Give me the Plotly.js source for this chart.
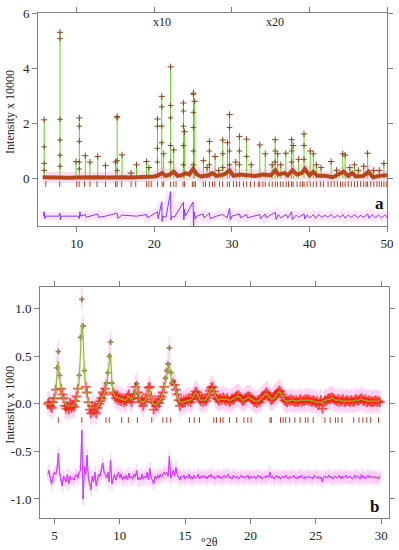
<!DOCTYPE html>
<html>
<head>
<meta charset="utf-8">
<script src="https://cdn.plot.ly/plotly-3.0.1.min.js"></script>
<style>html,body{margin:0;padding:0;background:#fff;}#chart{width:399px;height:550px;}</style>
</head>
<body>
<div id="chart"></div>
<script>
// ---------- Panel a (high-resolution pattern) ----------
const aPeakX = [5.8, 7.84, 9.9, 10.33, 11.1, 11.7, 12.7, 13.7, 15.0, 15.2, 15.84, 17.0, 17.7, 19.0, 19.3, 20.4, 20.96, 21.2, 22.1, 22.5, 23.75, 23.9, 25.04, 25.2, 26.33, 26.8, 27.1, 27.84, 28.3, 28.83, 29.43, 29.69, 30.5, 30.97, 31.9, 32.5, 33.6, 34.3, 35.2, 35.58, 35.9, 36.3, 36.96, 37.7, 37.9, 38.6, 39.3, 40.1, 40.5, 40.9, 41.5, 42.8, 43.5, 44.3, 44.6, 45.2, 45.8, 46.3, 47.0, 47.5, 48.3, 49.0, 49.6];
const aPeakH = [2.13, 5.3, 0.62, 2.2, 0.83, 0.6, 0.8, 0.47, 0.6, 2.25, 0.86, 0.2, 0.5, 0.62, 0.4, 2.16, 2.98, 0.9, 4.05, 1.04, 2.74, 1.7, 3.1, 2.8, 0.65, 0.4, 1.35, 0.8, 0.3, 1.4, 1.3, 2.32, 0.6, 1.53, 1.43, 0.5, 1.22, 0.9, 0.5, 1.41, 0.9, 0.5, 0.92, 1.41, 1.2, 0.7, 1.62, 1.0, 0.9, 0.5, 0.4, 0.62, 0.3, 0.9, 0.85, 0.4, 0.5, 0.3, 0.45, 0.92, 0.3, 0.3, 0.55];
const aFlankX = [7.84, 7.84, 7.84, 7.84, 7.84, 5.8, 5.8, 5.8, 10.33, 10.33, 10.33, 10.33, 15.2, 15.2, 15.2, 20.96, 20.96, 20.96, 20.4, 20.4, 20.4, 22.1, 22.1, 22.1, 22.1, 23.75, 23.75, 23.75, 23.75, 25.04, 25.04, 25.04, 25.04, 25.04, 29.69, 29.69, 29.69, 27.1, 27.1, 28.83, 28.83, 30.97, 30.97, 31.9, 35.58, 35.58, 37.7, 37.7, 39.3, 39.3];
const aFlankY = [5.07, 2.15, 1.4, 0.85, 0.45, 1.15, 0.55, 0.3, 1.9, 1.35, 0.6, 0.35, 2.2, 0.65, 0.3, 2.6, 1.9, 1.3, 1.9, 1.1, 0.6, 2.65, 2.2, 1.2, 0.6, 2.45, 1.9, 1.2, 0.5, 3.05, 2.4, 1.85, 1.0, 0.5, 1.85, 1.0, 0.5, 1.0, 0.5, 0.9, 0.4, 1.0, 0.5, 0.8, 1.0, 0.6, 1.0, 0.6, 1.2, 0.7];
const aBgX = [5.6, 6.5, 8, 9, 10, 11, 12, 13, 14, 15, 16, 17, 18, 19, 20, 20.5, 21, 21.5, 22, 22.5, 23, 23.5, 24, 24.5, 25, 25.5, 26, 27, 27.5, 28, 29, 29.7, 30.2, 31, 32, 33, 34, 35, 35.6, 36, 36.8, 37.2, 37.8, 38.4, 39, 39.4, 40, 40.5, 41, 42, 43, 43.6, 44.4, 45, 45.5, 46, 47, 47.6, 48.2, 49, 50];
const aBgY = [0.05, 0.04, 0.05, 0.03, 0.04, 0.05, 0.04, 0.05, 0.04, 0.06, 0.05, 0.04, 0.05, 0.06, 0.08, 0.12, 0.2, 0.1, 0.15, 0.25, 0.1, 0.12, 0.2, 0.15, 0.35, 0.15, 0.08, 0.12, 0.2, 0.1, 0.15, 0.3, 0.1, 0.15, 0.12, 0.1, 0.15, 0.12, 0.3, 0.15, 0.2, 0.12, 0.3, 0.15, 0.2, 0.35, 0.12, 0.25, 0.1, 0.1, 0.05, 0.15, 0.25, 0.1, 0.2, 0.08, 0.1, 0.25, 0.05, 0.1, 0.12];
const aDiffX = [5.7, 5.8, 5.9, 6.0, 7.7, 7.84, 7.9, 8.0, 10.2, 10.33, 10.4, 10.5, 11.1, 11.2, 12.7, 12.8, 13.7, 15.2, 15.3, 15.8, 17.7, 19.0, 19.1, 20.4, 20.5, 20.96, 21.0, 21.1, 21.5, 22.1, 22.15, 22.3, 22.6, 23.75, 23.8, 23.9, 24.0, 25.0, 25.05, 25.15, 25.3, 25.5, 26.3, 26.4, 27.1, 27.2, 28.0, 28.8, 29.4, 29.7, 29.8, 30.0, 31.0, 31.1, 31.9, 32.0, 33.6, 33.7, 34.3, 34.4, 35.6, 35.7, 36.0, 36.3, 37.0, 37.2, 37.7, 37.8, 38.3, 38.6, 39.3, 39.4, 39.7, 40.1, 40.5, 40.8, 41.2, 41.6, 42.0, 42.4, 42.8, 43.2, 43.6, 44.0, 44.3, 44.6, 45.0, 45.4, 45.8, 46.2, 46.6, 47.0, 47.5, 47.7, 48.1, 48.5, 48.9, 49.3, 49.7, 50.0];
const aDiffY = [-1.36, -1.2, -1.45, -1.36, -1.36, -1.25, -1.5, -1.36, -1.36, -1.45, -1.2, -1.36, -1.3, -1.4, -1.28, -1.4, -1.36, -1.25, -1.44, -1.32, -1.36, -1.3, -1.42, -1.2, -1.45, -0.84, -1.55, -1.36, -1.4, -0.47, -1.5, -1.36, -1.4, -0.86, -1.5, -1.1, -1.36, -0.85, -1.75, -1.2, -1.45, -1.36, -1.28, -1.42, -1.25, -1.45, -1.36, -1.3, -1.42, -1.08, -1.5, -1.36, -1.28, -1.42, -1.3, -1.42, -1.3, -1.45, -1.28, -1.42, -1.22, -1.48, -1.3, -1.42, -1.3, -1.43, -1.2, -1.48, -1.32, -1.4, -1.28, -1.46, -1.32, -1.42, -1.3, -1.44, -1.3, -1.4, -1.33, -1.4, -1.3, -1.42, -1.33, -1.4, -1.3, -1.43, -1.32, -1.4, -1.3, -1.42, -1.33, -1.4, -1.28, -1.44, -1.3, -1.42, -1.32, -1.42, -1.32, -1.38];
const aRefl = [6.0, 7.8, 10.0, 10.3, 11.0, 11.7, 12.6, 13.7, 15.0, 15.2, 15.8, 17.0, 17.6, 19.0, 19.3, 19.6, 20.4, 21.0, 21.2, 22.1, 22.5, 22.8, 23.7, 23.9, 24.9, 25.1, 25.3, 26.3, 26.6, 27.1, 27.5, 27.8, 28.4, 28.8, 29.4, 29.7, 30.2, 30.6, 31.0, 31.5, 31.9, 32.4, 32.9, 33.4, 33.6, 34.0, 34.3, 34.8, 35.2, 35.6, 35.9, 36.3, 36.6, 37.0, 37.3, 37.7, 37.9, 38.4, 38.8, 39.1, 39.3, 39.7, 40.1, 40.5, 40.9, 41.4, 41.8, 42.4, 42.8, 43.2, 43.6, 44.0, 44.3, 44.6, 45.0, 45.4, 45.8, 46.2, 46.6, 47.0, 47.3, 47.5, 47.9, 48.3, 48.7, 49.0, 49.3, 49.6, 49.9];
const aXTicks = [10, 20, 30, 40, 50];
const aYTicks = [0, 2, 4, 6];

// ---------- Panel b (x = 4.5 .. 29.9, step 0.1) ----------
const bStart = 4.5, bStep = 0.1;
const bObs = [
 0.00, 0.02, -0.02, -0.04, 0.02, 0.06, 0.15, 0.38, 0.55, 0.30,
 0.16, 0.10, 0.06, -0.02, -0.05, -0.02, -0.06, 0.01, -0.04, -0.01,
 -0.03, 0.03, 0.08, 0.16, 0.30, 0.70, 1.10, 0.82, 0.35, 0.18,
 0.12, 0.02, -0.06, -0.10, -0.02, -0.08, -0.03, -0.10, -0.04, 0.00,
 0.03, 0.06, 0.12, 0.10, 0.16, 0.22, 0.33, 0.50, 0.65, 0.22,
 0.12, 0.10, 0.06, 0.09, 0.04, 0.07, 0.03, 0.06, 0.02, 0.04,
 0.03, 0.08, 0.10, 0.05, 0.02, 0.06, 0.10, 0.18, 0.21, 0.12,
 0.06, 0.02, 0.04, -0.02, 0.03, 0.05, 0.10, 0.17, 0.18, 0.08,
 0.02, -0.06, 0.01, -0.02, 0.03, 0.01, 0.05, 0.08, 0.12, 0.18,
 0.27, 0.35, 0.42, 0.59, 0.33, 0.22, 0.24, 0.20, 0.15, 0.10,
 0.04, -0.02, 0.03, 0.01, 0.04, 0.02, 0.05, 0.03, 0.06, 0.02,
 0.05, 0.07, 0.10, 0.13, 0.12, 0.09, 0.05, 0.03, 0.06, 0.02,
 0.05, 0.03, 0.07, 0.10, 0.14, 0.17, 0.18, 0.13, 0.09, 0.06,
 0.05, 0.03, 0.06, 0.04, 0.07, 0.05, 0.03, 0.06, 0.04, 0.02,
 0.04, 0.06, 0.04, 0.07, 0.08, 0.09, 0.09, 0.07, 0.05, 0.03,
 0.04, 0.06, 0.07, 0.08, 0.08, 0.07, 0.05, 0.04, 0.02, 0.03,
 0.01, 0.04, 0.02, 0.05, 0.07, 0.09, 0.10, 0.12, 0.11, 0.09,
 0.06, 0.04, 0.05, 0.07, 0.09, 0.11, 0.12, 0.14, 0.13, 0.10,
 0.07, 0.04, 0.03, 0.02, 0.04, 0.03, 0.05, 0.03, 0.04, 0.02,
 0.04, 0.02, 0.03, 0.05, 0.02, 0.04, 0.03, 0.05, 0.04, 0.05,
 0.03, 0.04, 0.02, 0.04, 0.03, 0.01, 0.03, -0.01, 0.02, 0.04,
 -0.05, 0.02, 0.04, 0.03, 0.05, 0.06, 0.05, 0.07, 0.06, 0.05,
 0.04, 0.03, 0.05, 0.02, 0.04, 0.03, 0.05, 0.02, 0.03, 0.04,
 0.03, 0.02, 0.04, 0.03, 0.02, 0.04, 0.05, 0.03, 0.04, 0.05,
 0.06, 0.04, 0.03, 0.05, 0.02, 0.03, 0.04, 0.02, 0.03, 0.02,
 0.03, 0.04, 0.02, 0.03, 0.02];
const bCalc = [
 0.00, 0.00, 0.00, 0.00, 0.02, 0.05, 0.12, 0.30, 0.45, 0.25,
 0.14, 0.08, 0.04, 0.01, -0.01, -0.02, -0.02, -0.02, -0.02, -0.02,
 -0.01, 0.01, 0.05, 0.12, 0.25, 0.50, 0.85, 0.70, 0.32, 0.16,
 0.08, 0.02, -0.02, -0.04, -0.04, -0.04, -0.04, -0.04, -0.03, -0.01,
 0.02, 0.05, 0.08, 0.10, 0.14, 0.20, 0.30, 0.45, 0.53, 0.22,
 0.12, 0.09, 0.07, 0.07, 0.06, 0.06, 0.05, 0.05, 0.04, 0.04,
 0.04, 0.06, 0.08, 0.06, 0.05, 0.06, 0.09, 0.15, 0.19, 0.12,
 0.06, 0.03, 0.02, 0.02, 0.03, 0.05, 0.09, 0.15, 0.16, 0.08,
 0.02, 0.00, -0.01, 0.00, 0.01, 0.02, 0.04, 0.07, 0.11, 0.17,
 0.24, 0.30, 0.38, 0.42, 0.30, 0.22, 0.22, 0.19, 0.14, 0.08,
 0.04, 0.02, 0.02, 0.02, 0.02, 0.03, 0.03, 0.03, 0.04, 0.04,
 0.05, 0.07, 0.09, 0.12, 0.11, 0.08, 0.05, 0.04, 0.04, 0.04,
 0.04, 0.05, 0.07, 0.10, 0.13, 0.16, 0.16, 0.12, 0.08, 0.06,
 0.05, 0.04, 0.05, 0.05, 0.05, 0.05, 0.05, 0.05, 0.04, 0.04,
 0.04, 0.05, 0.05, 0.06, 0.07, 0.08, 0.08, 0.07, 0.05, 0.04,
 0.04, 0.05, 0.06, 0.07, 0.07, 0.06, 0.05, 0.04, 0.03, 0.03,
 0.03, 0.03, 0.04, 0.05, 0.07, 0.09, 0.10, 0.11, 0.10, 0.08,
 0.06, 0.05, 0.05, 0.06, 0.08, 0.10, 0.12, 0.13, 0.12, 0.09,
 0.06, 0.04, 0.03, 0.03, 0.03, 0.03, 0.04, 0.04, 0.04, 0.03,
 0.03, 0.03, 0.03, 0.04, 0.04, 0.04, 0.04, 0.04, 0.04, 0.04,
 0.04, 0.04, 0.03, 0.03, 0.03, 0.02, 0.02, 0.02, 0.02, 0.02,
 0.02, 0.03, 0.04, 0.04, 0.05, 0.05, 0.05, 0.06, 0.06, 0.05,
 0.04, 0.04, 0.04, 0.04, 0.04, 0.03, 0.03, 0.03, 0.03, 0.03,
 0.03, 0.03, 0.03, 0.03, 0.03, 0.04, 0.04, 0.04, 0.04, 0.05,
 0.05, 0.04, 0.04, 0.04, 0.03, 0.03, 0.03, 0.03, 0.03, 0.03,
 0.03, 0.03, 0.03, 0.03, 0.03];
const bDiff = [
 -0.74, -0.70, -0.80, -0.84, -0.76, -0.72, -0.74, -0.69, -0.52, -0.72,
 -0.80, -0.86, -0.76, -0.80, -0.82, -0.74, -0.84, -0.76, -0.80, -0.78,
 -0.80, -0.76, -0.74, -0.78, -0.72, -0.70, -0.28, -1.00, -0.66, -0.74,
 -0.54, -0.78, -0.86, -0.90, -0.76, -0.82, -0.72, -0.86, -0.80, -0.74,
 -0.76, -0.70, -0.62, -0.72, -0.74, -0.78, -0.72, -0.82, -0.59, -0.84,
 -0.78, -0.74, -0.80, -0.76, -0.72, -0.78, -0.74, -0.80, -0.76, -0.79,
 -0.75, -0.80, -0.73, -0.78, -0.76, -0.79, -0.74, -0.77, -0.70, -0.80,
 -0.77, -0.80, -0.74, -0.79, -0.76, -0.78, -0.72, -0.80, -0.68, -0.78,
 -0.80, -0.84, -0.76, -0.79, -0.75, -0.78, -0.74, -0.77, -0.75, -0.72,
 -0.74, -0.72, -0.76, -0.55, -0.78, -0.74, -0.70, -0.76, -0.67, -0.74,
 -0.77, -0.80, -0.76, -0.78, -0.75, -0.79, -0.76, -0.78, -0.74, -0.79,
 -0.76, -0.79, -0.75, -0.78, -0.77, -0.74, -0.79, -0.76, -0.78, -0.75,
 -0.78, -0.76, -0.79, -0.75, -0.77, -0.74, -0.78, -0.76, -0.79, -0.77,
 -0.75, -0.78, -0.76, -0.79, -0.77, -0.75, -0.78, -0.76, -0.74, -0.78,
 -0.77, -0.79, -0.75, -0.77, -0.78, -0.76, -0.79, -0.77, -0.75, -0.78,
 -0.76, -0.78, -0.77, -0.75, -0.79, -0.76, -0.78, -0.77, -0.76, -0.79,
 -0.77, -0.75, -0.78, -0.76, -0.79, -0.77, -0.76, -0.78, -0.75, -0.77,
 -0.72, -0.78, -0.76, -0.79, -0.77, -0.75, -0.78, -0.76, -0.79, -0.77,
 -0.76, -0.78, -0.75, -0.77, -0.79, -0.76, -0.78, -0.77, -0.75, -0.78,
 -0.77, -0.79, -0.76, -0.78, -0.75, -0.77, -0.79, -0.76, -0.78, -0.77,
 -0.76, -0.78, -0.77, -0.79, -0.75, -0.77, -0.78, -0.76, -0.79, -0.77,
 -0.82, -0.77, -0.76, -0.78, -0.77, -0.75, -0.78, -0.76, -0.79, -0.77,
 -0.76, -0.78, -0.77, -0.75, -0.79, -0.76, -0.78, -0.77, -0.75, -0.78,
 -0.77, -0.76, -0.78, -0.79, -0.77, -0.75, -0.78, -0.76, -0.77, -0.79,
 -0.74, -0.78, -0.76, -0.79, -0.77, -0.75, -0.78, -0.76, -0.77, -0.78,
 -0.76, -0.78, -0.77, -0.79, -0.76];
const bRefl = [5.3, 7.1, 8.95, 9.2, 10.15, 10.66, 11.35, 12.45, 13.3, 13.6, 13.9, 15.33, 15.7, 16.1, 17.2, 17.4, 17.7, 17.9, 18.4, 18.95, 19.5, 19.8, 20.05, 21.5, 21.6, 22.3, 22.5, 22.7, 23.0, 23.4, 23.8, 24.2, 24.4, 24.8, 25.7, 26.1, 26.5, 26.7, 27.0, 27.9, 28.3, 28.6, 28.9, 29.2, 29.8];
const bXTicks = [5, 10, 15, 20, 25, 30];
const bYTicks = [-1.0, -0.5, 0.0, 0.5, 1.0];
const bYLabels = ["-1.0", "-0.5", "0.0", "0.5", "1.0"];

// ---------- build traces ----------
const spikeX = [], spikeY = [];
aPeakX.forEach((x, i) => { spikeX.push(x, x, null); spikeY.push(0, aPeakH[i], null); });

const olive = '#6e5a1c';
const obsRed = '#f51a0a';
const obsColors = bObs.map(v => v > 0.2 ? olive : obsRed);
const obsSizes = bObs.map(v => v > 0.2 ? 4 : 7);

const traces = [
  // panel a
  {x: aBgX, y: aBgY, xaxis: 'x', yaxis: 'y', mode: 'lines', line: {color: 'rgba(255,170,220,0.4)', width: 11}, hoverinfo: 'skip'},
  {x: aDiffX, y: aDiffY, xaxis: 'x', yaxis: 'y', mode: 'lines', line: {color: 'rgba(255,170,230,0.3)', width: 8}, hoverinfo: 'skip'},
  {x: spikeX, y: spikeY, xaxis: 'x', yaxis: 'y', mode: 'lines', line: {color: '#66d022', width: 1}, connectgaps: false},
  {x: aBgX, y: aBgY, xaxis: 'x', yaxis: 'y', mode: 'lines', line: {color: '#b8461c', width: 4}},
  {x: aFlankX, y: aFlankY, xaxis: 'x', yaxis: 'y', mode: 'markers', marker: {symbol: 'cross-thin', size: 4, line: {color: olive, width: 1}}},
  {x: aPeakX, y: aPeakH, xaxis: 'x', yaxis: 'y', mode: 'markers', marker: {symbol: 'cross-thin', size: 4.5, line: {color: '#8a4422', width: 1}}},
  {x: aRefl, y: aRefl.map(() => -0.2), xaxis: 'x', yaxis: 'y', mode: 'markers', marker: {symbol: 'line-ns', size: 4, line: {color: '#b0402a', width: 1}}},
  {x: aDiffX, y: aDiffY, xaxis: 'x', yaxis: 'y', mode: 'lines', line: {color: '#7a3cff', width: 1}},
  // panel b
  {x0: bStart, dx: bStep, y: bDiff, xaxis: 'x2', yaxis: 'y2', mode: 'lines', line: {color: '#a040ff', width: 1},
   error_y: {type: 'constant', value: 0.07, color: 'rgba(255,140,235,0.3)', thickness: 2, width: 0}},
  {x0: bStart, dx: bStep, y: bDiff, xaxis: 'x2', yaxis: 'y2', mode: 'lines', line: {color: '#ee33ff', width: 0.7}},
  {x0: bStart, dx: bStep, y: bObs, xaxis: 'x2', yaxis: 'y2', mode: 'markers',
   marker: {symbol: 'cross-thin', size: obsSizes, line: {color: obsColors, width: 1.8}},
   error_y: {type: 'constant', value: 0.12, color: 'rgba(255,150,230,0.32)', thickness: 2, width: 0}},
  {x0: bStart, dx: bStep, y: bCalc, xaxis: 'x2', yaxis: 'y2', mode: 'lines', line: {color: '#8fc21e', width: 1.2}},
  {x: bRefl, y: bRefl.map(() => -0.17), xaxis: 'x2', yaxis: 'y2', mode: 'markers', marker: {symbol: 'line-ns', size: 4, line: {color: '#b0402a', width: 1}}}
];

const font = {family: '"Liberation Serif", serif', size: 13, color: '#222'};
const titleFont = {family: '"Liberation Serif", serif', size: 12, color: '#222'};
const axBase = {showline: true, mirror: 'ticks', ticks: 'outside', ticklen: 5, linecolor: '#808080', tickcolor: '#808080', linewidth: 1, zeroline: false, showgrid: false, tickfont: font};

const layout = {
  width: 399, height: 550,
  margin: {l: 38, r: 10, t: 13, b: 32},
  paper_bgcolor: '#fff', plot_bgcolor: '#fff',
  showlegend: false, font: font,
  xaxis: Object.assign({}, axBase, {domain: [0, 0.9943], anchor: 'y', range: [5, 50], tickvals: aXTicks}),
  yaxis: Object.assign({}, axBase, {domain: [0.578, 1], anchor: 'x', range: [-1.72, 6], tickvals: aYTicks}),
  xaxis2: Object.assign({}, axBase, {domain: [0.0057, 1], anchor: 'y2', range: [3.9, 30.6], tickvals: bXTicks}),
  yaxis2: Object.assign({}, axBase, {domain: [0, 0.4574], anchor: 'x2', range: [-1.2, 1.23], tickvals: bYTicks, ticktext: bYLabels}),
  annotations: [
    {text: 'Intensity x 10000', xref: 'paper', yref: 'paper', x: -0.08, y: 0.804, textangle: -90, showarrow: false, xanchor: 'center', yanchor: 'middle', font: titleFont},
    {text: 'Intensity x 1000', xref: 'paper', yref: 'paper', x: -0.08, y: 0.224, textangle: -90, showarrow: false, xanchor: 'center', yanchor: 'middle', font: titleFont},
    {text: '°2θ', xref: 'paper', yref: 'paper', x: 0.49, y: -0.0475, showarrow: false, xanchor: 'center', yanchor: 'middle', font: titleFont},
    {text: 'x10', xref: 'x', yref: 'y', x: 20.96, y: 5.68, showarrow: false, font: titleFont},
    {text: 'x20', xref: 'x', yref: 'y', x: 35.58, y: 5.68, showarrow: false, font: titleFont},
    {text: '<b>a</b>', xref: 'paper', yref: 'paper', x: 0.974, y: 0.622, showarrow: false, xanchor: 'center', yanchor: 'middle', font: {family: font.family, size: 17, color: '#111'}},
    {text: '<b>b</b>', xref: 'paper', yref: 'paper', x: 0.960, y: 0.0218, showarrow: false, xanchor: 'center', yanchor: 'middle', font: {family: font.family, size: 17, color: '#111'}}
  ]
};

Plotly.newPlot('chart', traces, layout, {displayModeBar: false, staticPlot: true});
</script>
</body>
</html>
